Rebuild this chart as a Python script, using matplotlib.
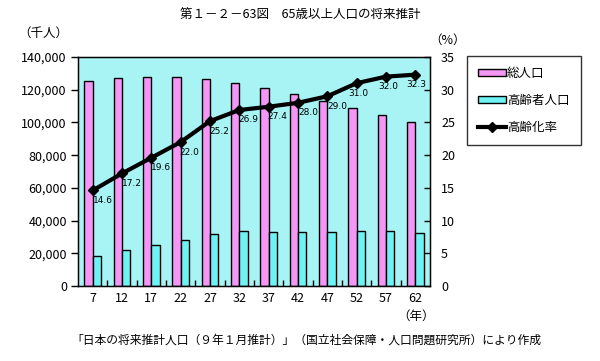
import matplotlib
matplotlib.use("Agg")
import matplotlib.pyplot as plt
import numpy as np
from matplotlib.lines import Line2D
from matplotlib.patches import Patch

plt.rcParams['font.family'] = ['Noto Sans CJK JP', 'DejaVu Sans']

years = ["7", "12", "17", "22", "27", "32", "37", "42", "47", "52", "57", "62"]
total_pop = [125200, 127000, 127700, 127600, 126400, 123900, 120900, 117400, 113300, 108600, 104500, 100300]
elderly_pop = [18200, 21900, 25100, 28100, 31800, 33400, 32800, 32800, 32800, 33400, 33400, 32200]
aging_rate = [14.6, 17.2, 19.6, 22.0, 25.2, 26.9, 27.4, 28.0, 29.0, 31.0, 32.0, 32.3]
label_dx = [10, 10, 10, 9, 9, 9, 9, 10, 10, 2, 2, 1]  # style: label x offsets in px

pink = '#f496f4'
cyan_bar = '#6ff2f2'
bg = '#a8f4f4'

fig = plt.figure(figsize=(6.0, 3.61), dpi=100)
ax = fig.add_axes([78/600, 1-286/361, (430-78)/600, (286-57)/361])
ax.set_facecolor(bg)

x = np.arange(len(years))
w = 0.28
ax.bar(x - w/2, total_pop, width=w, color=pink, edgecolor='black', linewidth=1, zorder=2)
ax.bar(x + w/2, elderly_pop, width=w, color=cyan_bar, edgecolor='black', linewidth=1, zorder=2)

ax.set_xlim(-0.5, len(years) - 0.5)
ax.set_ylim(0, 140000)
ax.set_yticks(np.arange(0, 140001, 20000))
ax.set_yticklabels([f"{v:,}" for v in range(0, 140001, 20000)], fontsize=9)
ax.tick_params(axis='y', direction='out', length=5, width=1, pad=3)
ax.set_xticks(x)
ax.set_xticklabels(years, fontsize=9)
ax.tick_params(axis='x', which='major', length=0, pad=4)
ax.set_xticks(np.arange(0.5, len(years) - 1, 1), minor=True)
ax.tick_params(axis='x', which='minor', direction='in', length=4, width=1)
for s in ax.spines.values():
    s.set_color('black')
    s.set_linewidth(1)

ax2 = ax.twinx()
ax2.set_ylim(0, 35)
ax2.set_yticks(np.arange(0, 36, 5))
ax2.set_yticklabels([str(v) for v in range(0, 36, 5)], fontsize=9)
ax2.tick_params(axis='y', direction='in', length=4, width=1, pad=8)
ax2.plot(x, aging_rate, color='black', linewidth=3, marker='D', markersize=5, zorder=5)
for xi, r, dx in zip(x, aging_rate, label_dx):
    ax2.annotate(f"{r:.1f}", (xi, r), xytext=(dx * 0.72, -10 * 0.72), textcoords='offset points',
                 ha='center', va='center', fontsize=6.5, family=['DejaVu Sans'])

handles = [Patch(facecolor=pink, edgecolor='black', linewidth=1),
           Patch(facecolor=cyan_bar, edgecolor='black', linewidth=1),
           Line2D([0], [0], color='black', linewidth=3, marker='D', markersize=5)]
labels = ["総人口", "高齢者人口", "高齢化率"]
leg = fig.legend(handles, labels, loc='upper left', bbox_to_anchor=(467/600, 1-56/361),
                 fontsize=9, frameon=True, fancybox=False, edgecolor='black',
                 handlelength=2.2, handleheight=0.5, labelspacing=1.1, borderpad=0.9,
                 handletextpad=0.1, borderaxespad=0)
leg.get_frame().set_linewidth(1)

fig.text(300/600, 1-14/361, "第１－２－63図　65歳以上人口の将来推計", ha='center', va='center', fontsize=9)
fig.text(18/600, 1-33/361, "（千人）", ha='left', va='center', fontsize=9)
fig.text(429/600, 1-40/361, "（%）", ha='left', va='center', fontsize=9)
fig.text(397/600, 1-316/361, "（年）", ha='left', va='center', fontsize=9)
fig.text(306/600, 1-340/361, "「日本の将来推計人口（９年１月推計）」（国立社会保障・人口問題研究所）により作成",
         ha='center', va='center', fontsize=8.5)

fig.savefig("out.png", dpi=100)
